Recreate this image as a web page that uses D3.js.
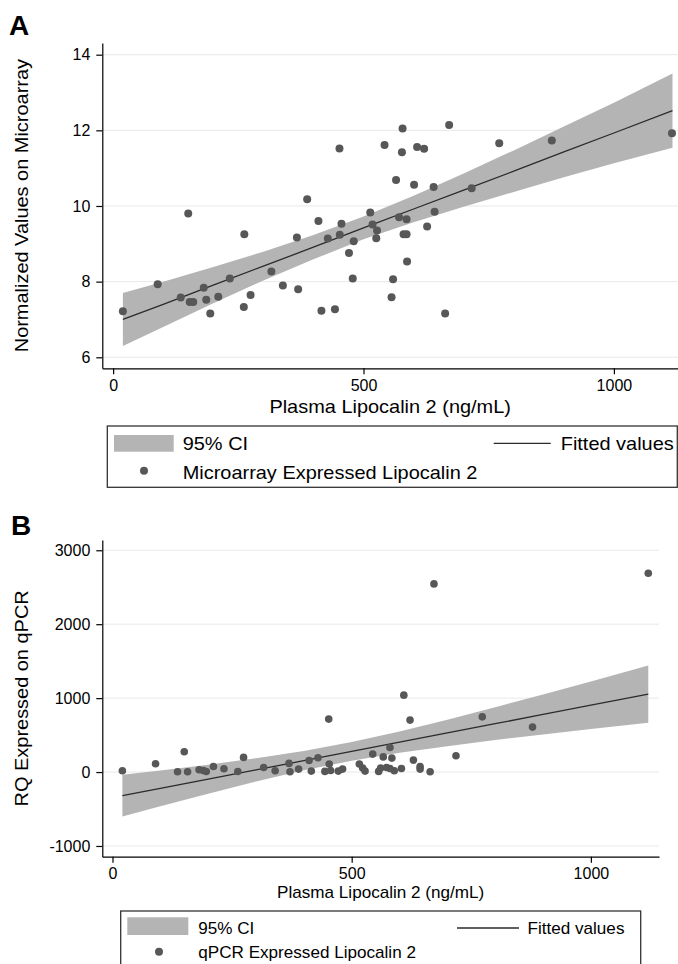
<!DOCTYPE html>
<html>
<head>
<meta charset="utf-8">
<script src="https://cdn.jsdelivr.net/npm/d3@7"></script>
<style>
  body { margin: 0; background: #fff; }
  svg { display: block; }
  text { font-family: "Liberation Sans", Arial, Helvetica, sans-serif; fill: #000; }
</style>
</head>
<body>
<div id="chart"></div>
<script>
// ---- panel A: microarray ----
var microX = [19.5, 89, 150, 135, 153, 160, 181, 186, 194, 210, 233, 262, 261, 274.5, 316, 339, 369.5, 367, 387.5, 410,
              416, 428.7, 443, 452, 452.6, 456, 471, 478.5, 480.5, 513.5, 518, 527, 525.5, 542, 578, 576.7, 607, 621, 671, 771,
              876, 1116, 565, 601, 640, 716, 571, 586, 642, 580, 586, 627, 587, 559, 556, 663];
var microY = [7.22, 7.93, 9.80, 7.58, 7.46, 7.46, 7.84, 7.52, 7.16, 7.60, 8.08, 9.25, 7.33, 7.65, 8.27, 7.90, 7.80, 9.17, 10.18, 9.60,
              7.23, 9.14, 7.27, 11.52, 9.24, 9.53, 8.76, 8.08, 9.07, 9.83, 9.51, 9.35, 9.15, 11.61, 12.05, 11.42, 11.56, 11.51, 12.14, 11.66,
              11.73, 11.92, 10.69, 10.56, 10.50, 10.47, 9.70, 9.65, 9.85, 9.25, 9.25, 9.46, 8.53, 8.06, 7.59, 7.16];
var microBandX  = [19.5, 100, 200, 300, 400, 500, 600, 700, 800, 900, 1000, 1117];
var microFit    = [7.00, 7.40, 7.91, 8.41, 8.91, 9.42, 9.92, 10.42, 10.92, 11.43, 11.93, 12.52];
var microLo     = [6.30, 6.80, 7.43, 8.03, 8.59, 9.12, 9.57, 9.98, 10.37, 10.76, 11.13, 11.54];
var microHi     = [7.70, 8.00, 8.39, 8.79, 9.23, 9.72, 10.27, 10.86, 11.47, 12.10, 12.73, 13.50];
var microYTicks = [6, 8, 10, 12, 14];

// ---- panel B: qPCR ----
var qpcrX = [20.7, 90, 150, 136, 157, 181, 190, 196, 211, 233, 262, 274, 316, 340, 369, 371, 389, 411, 415.6, 429.6,
             444, 452, 453, 456, 472, 481, 516, 523, 528, 544, 556.4, 560.6, 566, 672, 1120, 609, 622, 773, 878, 718,
             580, 584, 629, 643, 643, 664, 604, 589, 573, 580];
var qpcrY = [18, 112, 274, 4, 4, 31, 22, 8, 76, 45, 8, 198, 62, 18, 117, 4, 40, 157, 13, 193,
             9, 716, 108, 22, 13, 40, 108, 54, 13, 243, 9, 54, 205, 2545, 2689, 1040, 703, 747, 608, 220,
             333, 189, 162, 76, 40, 4, 49, 18, 62, 49];
var qpcrBandX  = [20.7, 100, 200, 300, 400, 500, 600, 700, 800, 900, 1000, 1120];
var qpcrFit    = [-320, -221, -96, 29, 154, 279, 404, 529, 654, 779, 904, 1054];
var qpcrLo     = [-600, -462, -292, -128, 23, 153, 260, 350, 432, 509, 584, 668];
var qpcrHi     = [-36, 20, 100, 186, 285, 405, 548, 708, 876, 1049, 1224, 1440];
var qpcrYTicks = [-1000, 0, 1000, 2000, 3000];

var xTicks = [0, 500, 1000];
var xTitle = "Plasma Lipocalin 2 (ng/mL)";

var svg = d3.select("#chart").append("svg")
            .attr("width", 678)
            .attr("height", 964);

// plain integer labels, ascii minus like the original
function plain(d){ return String(d); }

function wideText(g, str, x, y, size, sx, anchor, rot)
{
	var t = g.append("text")
	         .attr("transform", "translate(" + x + "," + y + ")" + (rot ? " rotate(" + rot + ")" : "") + " scale(" + sx + ",1)")
	         .attr("font-size", size)
	         .attr("text-anchor", anchor || "start")
	         .text(str);
	return t;
}

function drawPanel(p)
{
	var g = svg.append("g");
	var x = d3.scaleLinear().domain(p.xDom).range([p.left, p.right]);
	var y = d3.scaleLinear().domain(p.yDom).range([p.bottom, p.top]);

	g.append("text").attr("x", p.letterX).attr("y", p.letterY)
	 .attr("font-size", 28).attr("font-weight", "bold").text(p.letter);

	// grid
	g.selectAll("line.grid").data(p.yTicks).enter().append("line")
	 .attr("class", "grid")
	 .attr("x1", p.left).attr("x2", p.right)
	 .attr("y1", function(d){return y(d)}).attr("y2", function(d){return y(d)})
	 .attr("stroke", "#e8e8e8").attr("stroke-width", 1);

	// ci band
	var band = d3.area()
	             .x(function(d,i){return x(p.bandX[i])})
	             .y0(function(d,i){return y(p.lo[i])})
	             .y1(function(d,i){return y(p.hi[i])});
	g.append("path").datum(p.bandX).attr("d", band).attr("fill", "#b4b4b4");

	var line = d3.line()
	             .x(function(d,i){return x(p.bandX[i])})
	             .y(function(d,i){return y(p.fit[i])});
	g.append("path").datum(p.bandX).attr("d", line)
	 .attr("fill", "none").attr("stroke", "#2b2b2b").attr("stroke-width", 1.3);

	g.selectAll("circle.pt").data(p.px).enter().append("circle")
	 .attr("class", "pt")
	 .attr("cx", function(d){return x(d)})
	 .attr("cy", function(d,i){return y(p.py[i])})
	 .attr("r", p.r)
	 .attr("fill", "#575757");

	// axes
	var ya = g.append("g").attr("transform", "translate(" + p.left + ",0)")
	          .call(d3.axisLeft(y).tickValues(p.yTicks).tickFormat(plain).tickSize(6).tickSizeOuter(0).tickPadding(6));
	var xa = g.append("g").attr("transform", "translate(0," + p.bottom + ")")
	          .call(d3.axisBottom(x).tickValues(xTicks).tickFormat(plain).tickSize(6).tickSizeOuter(0).tickPadding(5));
	[ya, xa].forEach(function(a){
		a.selectAll("path, line").attr("stroke", "#000").attr("stroke-width", 1.2);
		a.selectAll("text").attr("font-size", 16).attr("fill", "#000")
		 .style("font-family", "'Liberation Sans', Arial, sans-serif");
	});

	wideText(g, p.yTitle, p.yTitleX, (p.top + p.bottom) / 2, 17.5, 1.14, "middle", -90);
	wideText(g, xTitle, (p.left + p.right) / 2, p.xTitleY, p.lfs, p.lsx, "middle");

	// legend
	var L = p.leg;
	g.append("rect").attr("x", L.x).attr("y", L.y).attr("width", L.w).attr("height", L.h)
	 .attr("fill", "#fff").attr("stroke", "#333").attr("stroke-width", 1.3);
	g.append("rect").attr("x", L.sw[0]).attr("y", L.sw[1]).attr("width", L.sw[2]).attr("height", L.sw[3])
	 .attr("fill", "#b4b4b4");
	wideText(g, "95% CI", L.tx, L.row1, p.lfs, p.lsx);
	g.append("line").attr("x1", L.ln[0]).attr("x2", L.ln[1]).attr("y1", L.ln[2]).attr("y2", L.ln[2])
	 .attr("stroke", "#2b2b2b").attr("stroke-width", 1.3);
	wideText(g, "Fitted values", L.fx, L.row1, p.lfs, p.lsx);
	g.append("circle").attr("cx", L.dot[0]).attr("cy", L.dot[1]).attr("r", 4).attr("fill", "#575757");
	wideText(g, p.series, L.tx, L.row2, p.lfs, p.lsx);
}

drawPanel({
	letter: "A", letterX: 9, letterY: 35,
	left: 102.3, right: 678, top: 43, bottom: 368.3,
	xDom: [-21.6, 1128], yDom: [5.709, 14.309],
	yTicks: microYTicks, px: microX, py: microY, r: 4,
	bandX: microBandX, fit: microFit, lo: microLo, hi: microHi,
	yTitle: "Normalized Values on Microarray", yTitleX: 28,
	xTitleY: 412.5, lfs: 17.5, lsx: 1.14,
	series: "Microarray Expressed Lipocalin 2",
	leg: {x: 107.3, y: 426, w: 570, h: 61.3, sw: [114, 435, 59.7, 16.7], tx: 182.7, row1: 449.5, row2: 478.5,
	      ln: [493.7, 550.7, 443.3], fx: 560.7, dot: [144, 470.7]}
});

drawPanel({
	letter: "B", letterX: 11, letterY: 535,
	left: 102.3, right: 659, top: 540, bottom: 856.7,
	xDom: [-21.3, 1142.4], yDom: [-1145, 3139],
	yTicks: qpcrYTicks, px: qpcrX, py: qpcrY, r: 3.8,
	bandX: qpcrBandX, fit: qpcrFit, lo: qpcrLo, hi: qpcrHi,
	yTitle: "RQ Expressed on qPCR", yTitleX: 28,
	xTitleY: 897.5, lfs: 16, lsx: 1.07,
	series: "qPCR Expressed Lipocalin 2",
	leg: {x: 120.7, y: 911, w: 520, h: 70, sw: [127.3, 917.3, 61, 17.7], tx: 198.3, row1: 933.5, row2: 957.5,
	      ln: [457, 519, 928], fx: 527.5, dot: [159, 951.7]}
});
</script>
</body>
</html>
